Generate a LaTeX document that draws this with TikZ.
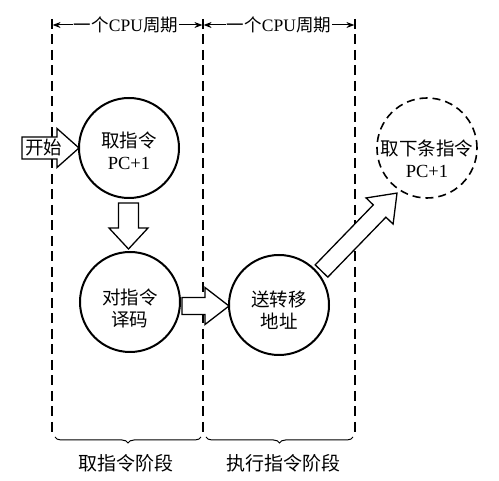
\documentclass[tikz,border=0pt]{standalone}
\usepackage{fontspec}
\setmainfont{Liberation Serif}
\newfontfamily\cjk{Noto Sans CJK SC}
\usetikzlibrary{calc,arrows.meta,decorations.pathreplacing}
\newcommand\zh[1]{{\cjk #1}}
\begin{document}
\begin{tikzpicture}[x=1pt,y=-1pt,
  circ/.style={circle,draw,line width=2pt,minimum size=100pt,inner sep=0pt},
  dcirc/.style={circ,line width=1.6pt,dash pattern=on 8pt off 5pt},
  lbl/.style={align=center,font=\fontsize{18.5}{22}\selectfont,inner sep=0pt},
  hdr/.style={font=\fontsize{17.5}{20}\selectfont,inner sep=1pt},
  btm/.style={font=\fontsize{19}{20}\selectfont,inner sep=0pt},
  vdash/.style={line width=1.3pt,dash pattern=on 10pt off 5.5pt},
  hollow/.style={draw,line width=1.3pt,fill=white,line join=miter},
  harr/.style={line width=1pt,-{Stealth[length=8pt,width=6pt]}},
  brc/.style={line width=1pt,decorate,decoration={brace,mirror,amplitude=6pt}}]
\useasboundingbox (0,0) rectangle (499,481);

% column boundaries
\coordinate (t1) at (52,19);  \coordinate (b1) at (52,437);
\coordinate (t2) at (203,19); \coordinate (b2) at (203,437);
\coordinate (t3) at (355,19); \coordinate (b3) at (355,437);
\draw[vdash] (t1) -- (b1);
\draw[vdash] (t2) -- (b2);
\draw[vdash] (t3) -- (b3);

% headers
\node[hdr] (h1) at (126,25) {\zh{一个}CPU\zh{周期}};
\node[hdr] (h2) at (279,25) {\zh{一个}CPU\zh{周期}};
\coordinate (h1l) at (52.6,25); \coordinate (h1r) at (202.4,25);
\coordinate (h2l) at (203.6,25); \coordinate (h2r) at (354.4,25);
\draw[harr] (h1.west) -- (h1l);
\draw[harr] (h1.east) -- (h1r);
\draw[harr] (h2.west) -- (h2l);
\draw[harr] (h2.east) -- (h2r);

% circles
\node[circ] (A) at (129,148) {};
\node[circ] (B) at (130,302) {};
\node[circ] (C) at (279,305) {};
\node[dcirc] (D) at (427,148) {};
\node[lbl] (At) at ($(A)+(0,3)$) {\zh{取指令}\\PC+1};
\node[lbl] (Bt) at ($(B)+(0,6)$) {\zh{对指令}\\\zh{译码}};
\node[lbl] (Ct) at ($(C)+(0,5)$) {\zh{送转移}\\\zh{地址}};
\node[lbl] (Dt) at ($(D)+(0,11)$) {\zh{取下条指令}\\PC+1};

% hollow arrows
\begin{scope}[shift={(22,148)}]
  \draw[hollow] (0,-11) -- (35,-11) -- (35,-19.5) -- (57,0) -- (35,19.5) -- (35,11) -- (0,11) -- cycle;
\end{scope}
\node[lbl] (start) at (44,148) {\zh{开始}};

\begin{scope}[shift={(128.5,203)},rotate=-90]
  \draw[hollow] (0,-10) -- (25,-10) -- (25,-19.5) -- (46,0) -- (25,19.5) -- (25,10) -- (0,10) -- cycle;
\end{scope}

\begin{scope}[shift={(182,306)}]
  \draw[hollow] (0,-8.5) -- (23,-8.5) -- (23,-18.5) -- (47,0) -- (23,18.5) -- (23,8.5) -- (0,8.5) -- cycle;
\end{scope}

\begin{scope}[shift={(321.5,271)},rotate=45.9]
  \draw[hollow] (0,-8.8) -- (83.5,-8.8) -- (83.5,-18.8) -- (108.5,0) -- (83.5,18.8) -- (83.5,8.8) -- (0,8.8) -- cycle;
\end{scope}

% braces
\coordinate (br1l) at (55,437); \coordinate (br1r) at (201,437);
\coordinate (br2l) at (206,437); \coordinate (br2r) at (353,437);
\draw[brc] (br1l) -- (br1r);
\draw[brc] (br2l) -- (br2r);
\node[btm] (s1) at (126,463) {\zh{取指令阶段}};
\node[btm] (s2) at (283,463) {\zh{执行指令阶段}};
\end{tikzpicture}
\end{document}
